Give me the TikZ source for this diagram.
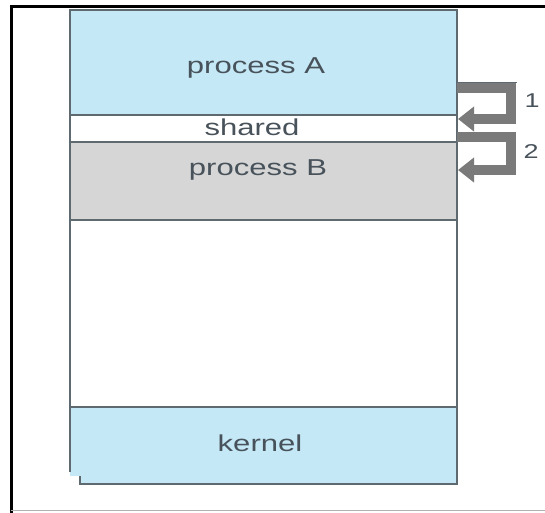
\documentclass[tikz,border=0pt]{standalone}
\usepackage{fontspec}
\setmainfont{Liberation Sans}
\usetikzlibrary{arrows.meta}
\definecolor{memblue}{RGB}{196,232,246}
\definecolor{memgray}{RGB}{214,214,214}
\definecolor{edgegray}{RGB}{95,105,112}
\definecolor{textgray}{RGB}{72,82,90}
\definecolor{arrowgray}{RGB}{122,122,122}
\newcommand{\wtext}[1]{\scalebox{1.35}[1]{#1}}

\begin{document}
\begin{tikzpicture}[x=1pt,y=-1pt,
  seg/.style={inner sep=0pt,outer sep=0pt,minimum width=387pt,anchor=north west},
  edge/.style={draw=edgegray,line width=1.6pt},
  lbl/.style={text=textgray,font=\fontsize{23}{27}\selectfont},
  num/.style={text=textgray,font=\fontsize{20}{24}\selectfont},
  hook/.style={arrowgray,line width=10pt,-{Triangle[length=16pt,width=24pt]}}]
  \useasboundingbox (0,0) rectangle (545,512);
  % memory segments, top to bottom
  \node[seg,fill=memblue,minimum height=105pt] (procA) at (70,10) {};
  \node[seg,minimum height=27pt] (shared) at (procA.south west) {};
  \node[seg,fill=memgray,minimum height=78pt] (procB) at (shared.south west) {};
  \node[seg,minimum height=187pt] (free) at (procB.south west) {};
  \node[seg,fill=memblue,minimum height=69pt] (kernel) at (free.south west) {};
  \fill[memblue] (80,476) rectangle (457,484);
  \node[lbl] (tA) at (256,68) {\wtext{process A}};
  \node[lbl] (tS) at (252,127) {\wtext{shared}};
  \node[lbl] (tB) at (258,170) {\wtext{process B}};
  \node[lbl] (tK) at (260,443) {\wtext{kernel}};
  % separators and outline
  \foreach \s in {procA,shared,procB,free}
    \draw[edge] (\s.south west) -- (\s.south east);
  \draw[edge] (70,472) -- (procA.north west) -- (procA.north east)
    -- (457,484) -- (80,484) -- (80,476);
  % the two address changes
  \coordinate (b1) at (457,88);
  \coordinate (e1) at (458,119);
  \coordinate (b2) at (457,137);
  \coordinate (e2) at (458,170);
  \draw[edgegray,line width=1pt] (457,82) -- (517,82);
  \draw[hook] (b1) -| (511,119) -- (e1);
  \draw[hook] (b2) -| (511,170) -- (e2);
  \node[num] (n1) at (532,101) {\wtext{1}};
  \node[num] (n2) at (531,152) {\wtext{2}};
  % frame
  \draw[line width=3pt] (546,6) -- (11,6) -- (11,514);
  \draw[black!30,line width=1pt] (11,510.5) -- (545,510.5);
\end{tikzpicture}
\end{document}
